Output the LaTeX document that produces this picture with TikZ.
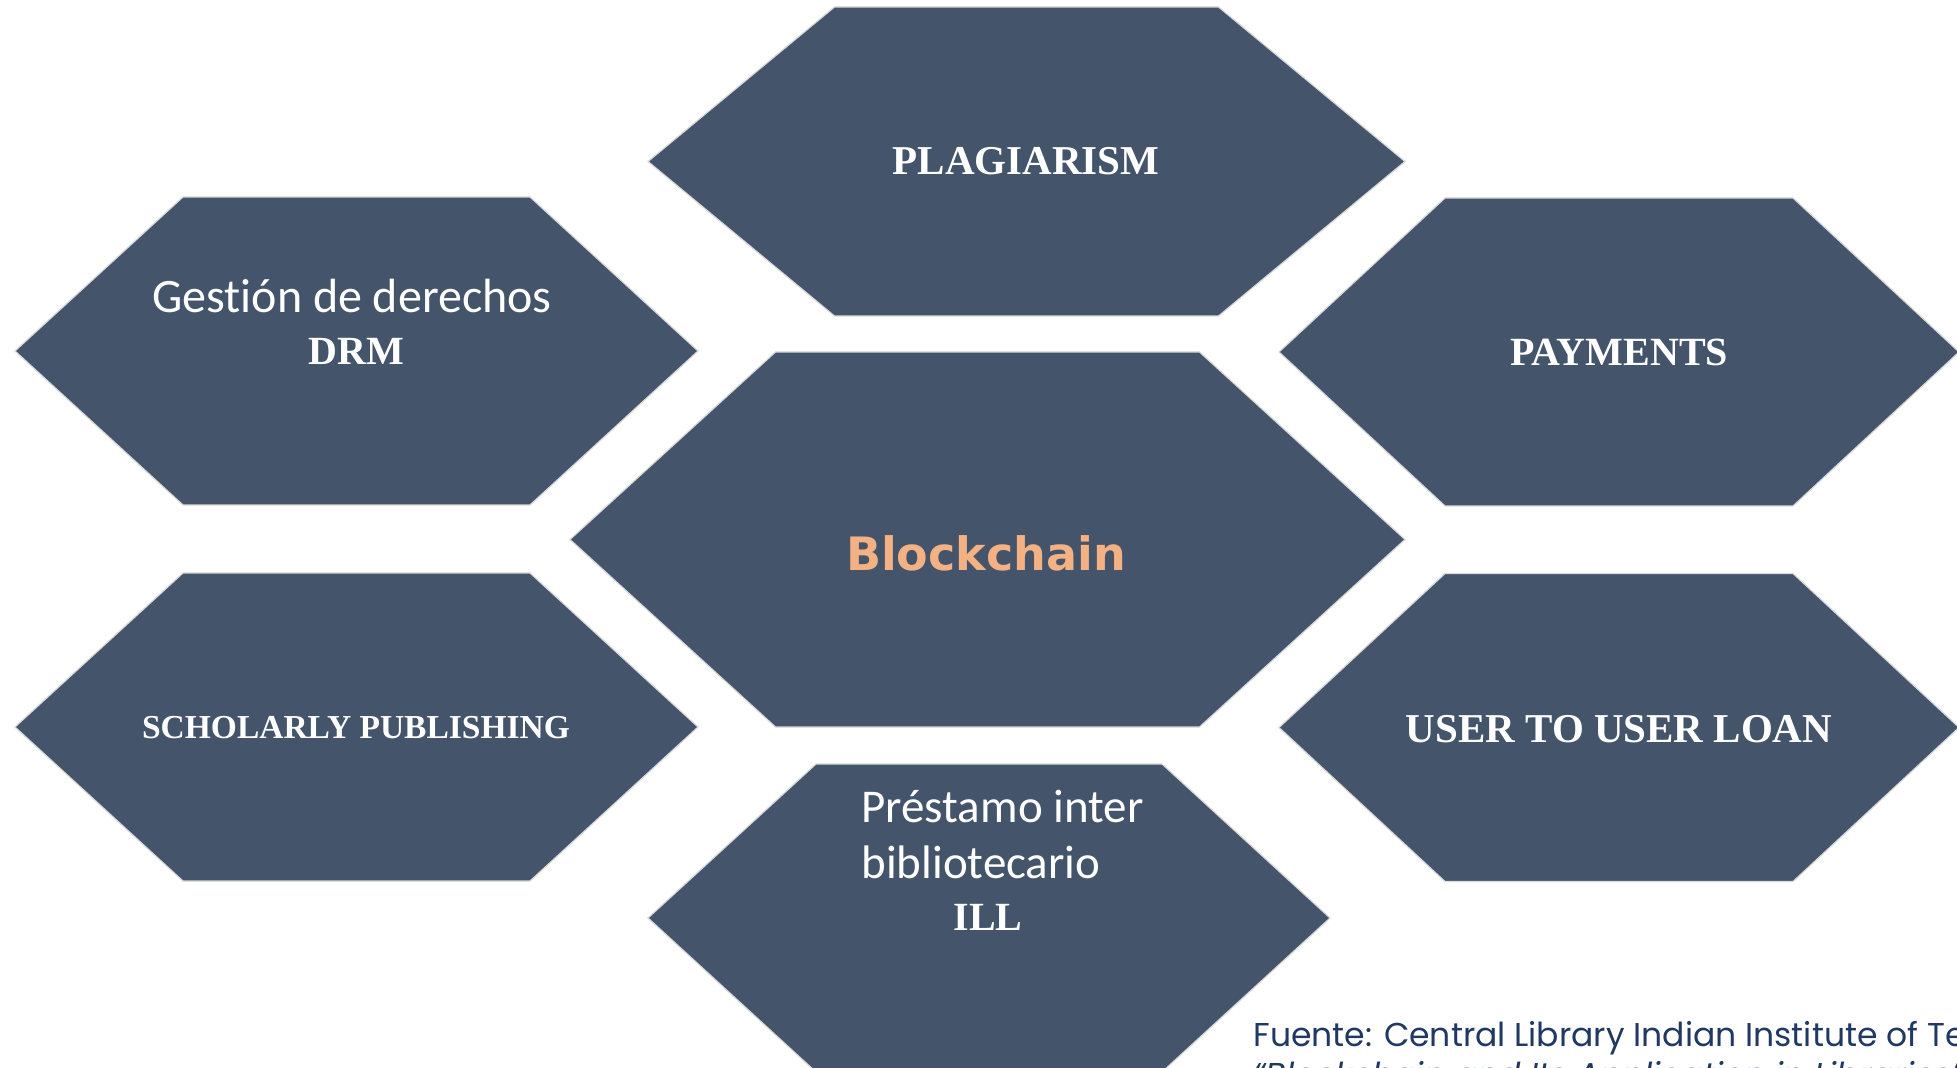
\documentclass[tikz,border=0pt]{standalone}
\usepackage{fontspec}
\newfontfamily\calibfont[Ligatures=NoCommon]{Carlito}
\newfontfamily\tnrfont{Liberation Serif}
\newfontfamily\dvsfont{DejaVu Sans}
\newfontfamily\srcfont{Poppins}
\definecolor{hexfill}{HTML}{44546A}
\definecolor{orangetxt}{HTML}{F4B183}
\definecolor{srcblue}{HTML}{1F3864}
\tikzset{
  hexshape/.style={fill=hexfill,draw=black!15,line width=0.6pt,line join=miter},
  serifb/.style={text=white,inner sep=0pt,anchor=base,font=\tnrfont\bfseries\fontsize{#1}{#1}\selectfont},
  calibtxt/.style={text=white,inner sep=0pt,anchor=base,font=\calibfont\fontsize{#1}{#1}\selectfont},
}
% name, cx, cy, half width, half top edge, half height
\newcommand\hexa[6]{%
  \coordinate (#1) at (#2,#3);
  \path[hexshape] (#2-#4,#3) -- (#2-#5,#3-#6) -- (#2+#5,#3-#6) -- (#2+#4,#3)
     -- (#2+#5,#3+#6) -- (#2-#5,#3+#6) -- cycle;
}
\begin{document}
\begin{tikzpicture}[x=0.5pt,y=-0.5pt]
\useasboundingbox (0,0) rectangle (1957,1068);
\clip (0,0) rectangle (1957,1068);
\fill[white] (0,0) rectangle (1957,1068);

\hexa{hplag}{1026.5}{161.5}{378.5}{192}{154.5}
\hexa{hdrm}{356.5}{351}{341.5}{173.5}{154}
\hexa{hpay}{1619}{352}{340}{174}{154}
\hexa{hblock}{987.5}{539.5}{417.5}{212}{187.5}
\hexa{hschol}{356.5}{727}{341.5}{173.5}{154}
\hexa{huser}{1619}{727.5}{340}{174}{154}
\hexa{hill}{989}{918}{341}{173}{154}

\node[serifb=20.5pt] (plag) at (1026,175) {PLAGIARISM};
\node[calibtxt=24pt] (gest) at (352,313) {Gestión de derechos};
\node[serifb=20pt] (drm) at (356,365) {DRM};
\node[serifb=20pt] (pay) at (1619,366) {PAYMENTS};
\node[inner sep=0pt,anchor=base,text=orangetxt,font=\dvsfont\bfseries\fontsize{23pt}{23pt}\selectfont] (block) at (986,570) {Blockchain};
\node[serifb=16.75pt] (schol) at (356,738) {SCHOLARLY PUBLISHING};
\node[serifb=20.5pt] (user) at (1619,742) {USER TO USER LOAN};
\node[calibtxt=23.5pt,anchor=base west] (prest) at (861,822) {Préstamo inter};
\node[calibtxt=23.5pt,anchor=base west] (biblio) at (861,878) {bibliotecario};
\node[serifb=20pt] (ill) at (988,930) {ILL};

\node[inner sep=0pt,anchor=base west,text=srcblue,font=\srcfont\fontsize{16.5pt}{20pt}\selectfont] (src1) at (1253,1046) {Fuente: Central Library Indian Institute of Technology};
\node[inner sep=0pt,anchor=base west,text=srcblue,font=\srcfont\itshape\fontsize{16.5pt}{20pt}\selectfont] (src2) at (1253,1086) {“Blockchain and Its Application in Libraries”};
\end{tikzpicture}
\end{document}
